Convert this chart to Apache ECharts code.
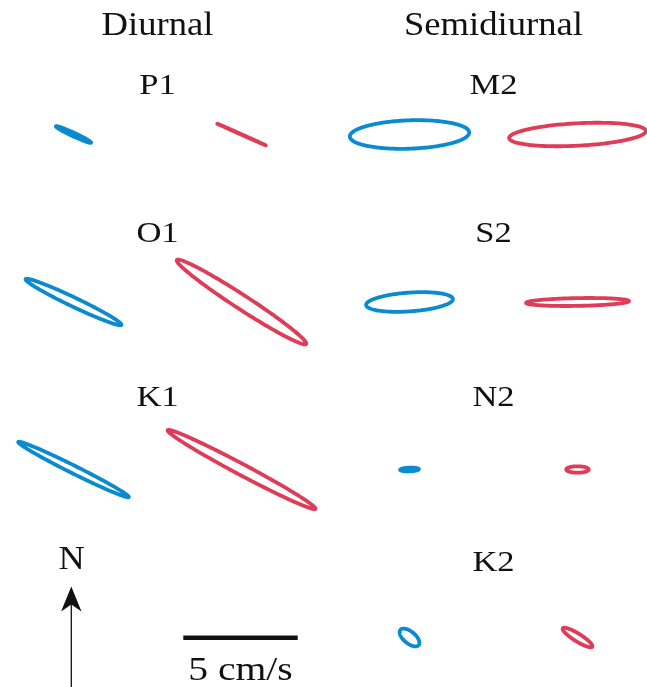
<!DOCTYPE html>
<html>
<head>
<meta charset="utf-8">
<script src="https://cdn.jsdelivr.net/npm/echarts@6/dist/echarts.min.js"></script>
<style>
  html, body { margin: 0; padding: 0; background: #ffffff; }
  #chart { width: 647px; height: 687px; }
</style>
</head>
<body>
<div id="chart"></div>
<script>
// Tidal current ellipses (cm/s) for diurnal and semidiurnal constituents.
const diurnal = ['P1', 'O1', 'K1'];
const semidiurnal = ['M2', 'S2', 'N2', 'K2'];
const constituents = diurnal.concat(semidiurnal);

// Ellipse parameters per constituent, in the order of `constituents`:
// semi-major axis (cm/s), semi-minor axis (cm/s), inclination (deg, counter-clockwise from east)
const blueMajor = [0.85, 2.32, 2.70, 2.61, 1.90, 0.41, 0.52];
const blueMinor = [0.08, 0.20, 0.17, 0.62, 0.41, 0.08, 0.26];
const blueIncl  = [-25, -25.5, -26.5, 2, 4, 2, -40];

const redMajor = [1.16, 3.37, 3.66, 2.99, 2.25, 0.49, 0.76];
const redMinor = [0.01, 0.31, 0.24, 0.49, 0.17, 0.14, 0.17];
const redIncl  = [-24, -33, -28, 3, 1, 0, -32];

// Scale bar length (cm/s)
const scaleBarValue = 5;

// ---- layout ----
const W = 647, H = 687;
const PX_PER_UNIT = 114.4 / 5;           // pixels per cm/s
const colCenterPx = [157.5, 493.5];      // panel centres (diurnal, semidiurnal)
const pairOffsetPx = 84;                 // half distance between the two ellipses of a panel
const rowCenterPx = [134.5, 302, 469.5, 637.5];
const labelBaselinePx = [96, 244, 408.3, 573.3];
const BLUE = '#0a8bd0';
const RED = '#df3d57';
const FONT = '"Liberation Serif", "DejaVu Serif", serif';
const STROKE = 3.8;

const toUnitX = px => px / PX_PER_UNIT;
const toUnitY = py => (H - py) / PX_PER_UNIT;

function panelOf(name) {
  const d = diurnal.indexOf(name);
  if (d >= 0) return { col: 0, row: d };
  return { col: 1, row: semidiurnal.indexOf(name) };
}

function buildData(major, minor, incl, side) {
  return constituents.map((name, i) => {
    const p = panelOf(name);
    const cxPx = colCenterPx[p.col] + side * pairOffsetPx;
    const cyPx = rowCenterPx[p.row];
    return [toUnitX(cxPx), toUnitY(cyPx), major[i], minor[i], incl[i], name];
  });
}

function ellipseItem(color) {
  return function (params, api) {
    const cx = api.value(0), cy = api.value(1);
    const a = api.value(2), b = api.value(3);
    const th = api.value(4) * Math.PI / 180;
    const pts = [];
    const n = 180;
    for (let k = 0; k < n; k++) {
      const t = 2 * Math.PI * k / n;
      const x = cx + a * Math.cos(t) * Math.cos(th) - b * Math.sin(t) * Math.sin(th);
      const y = cy + a * Math.cos(t) * Math.sin(th) + b * Math.sin(t) * Math.cos(th);
      pts.push(api.coord([x, y]));
    }
    return {
      type: 'polygon',
      shape: { points: pts },
      style: { fill: 'none', stroke: color, lineWidth: STROKE, lineJoin: 'round' }
    };
  };
}

// Scale bar drawn through the axis scale
const scaleBarStartPx = 183.3, scaleBarYPx = 637.7;

const chart = echarts.init(document.getElementById('chart'), null, { renderer: 'canvas' });

const textEl = (text, x, baseline, size, stretch) => ({
  type: 'text',
  x: x,
  y: baseline - 0.33 * size,
  scaleX: stretch,
  style: {
    text: text,
    font: size + 'px ' + FONT,
    fill: '#111111',
    textAlign: 'center',
    textVerticalAlign: 'middle'
  }
});

const graphics = [
  textEl('Diurnal', colCenterPx[0], 37.7, 33, 1.11),
  textEl('Semidiurnal', colCenterPx[1], 37.7, 33, 1.11),
  textEl('N', 71.5, 571.7, 33, 1.1),
  textEl('5 cm/s', 240.5, 682, 33, 1.2)
];
constituents.forEach(name => {
  const p = panelOf(name);
  graphics.push(textEl(name, colCenterPx[p.col], labelBaselinePx[p.row], 30, 1.15));
});
// North arrow
graphics.push({
  type: 'line',
  shape: { x1: 71.3, y1: 700, x2: 71.3, y2: 600 },
  style: { stroke: '#111111', lineWidth: 1.3 }
});
graphics.push({
  type: 'polygon',
  shape: { points: [[71.3, 586.5], [81.5, 611.5], [71.3, 604.5], [61.1, 611.5]] },
  style: { fill: '#111111' }
});

chart.setOption({
  animation: false,
  grid: { left: 0, right: 0, top: 0, bottom: 0, containLabel: false },
  xAxis: { type: 'value', min: 0, max: W / PX_PER_UNIT, show: false },
  yAxis: { type: 'value', min: 0, max: H / PX_PER_UNIT, show: false },
  graphic: graphics,
  series: [
    {
      name: 'blue',
      type: 'custom',
      clip: false,
      renderItem: ellipseItem(BLUE),
      data: buildData(blueMajor, blueMinor, blueIncl, -1)
    },
    {
      name: 'red',
      type: 'custom',
      clip: false,
      renderItem: ellipseItem(RED),
      data: buildData(redMajor, redMinor, redIncl, 1)
    },
    {
      name: 'scale',
      type: 'custom',
      clip: false,
      renderItem: function (params, api) {
        const x0 = api.value(0), y0 = api.value(1), len = api.value(2);
        const p1 = api.coord([x0, y0]);
        const p2 = api.coord([x0 + len, y0]);
        return {
          type: 'line',
          shape: { x1: p1[0], y1: p1[1], x2: p2[0], y2: p2[1] },
          style: { stroke: '#111111', lineWidth: 4.5 }
        };
      },
      data: [[toUnitX(scaleBarStartPx), toUnitY(scaleBarYPx), scaleBarValue]]
    }
  ]
});
</script>
</body>
</html>
